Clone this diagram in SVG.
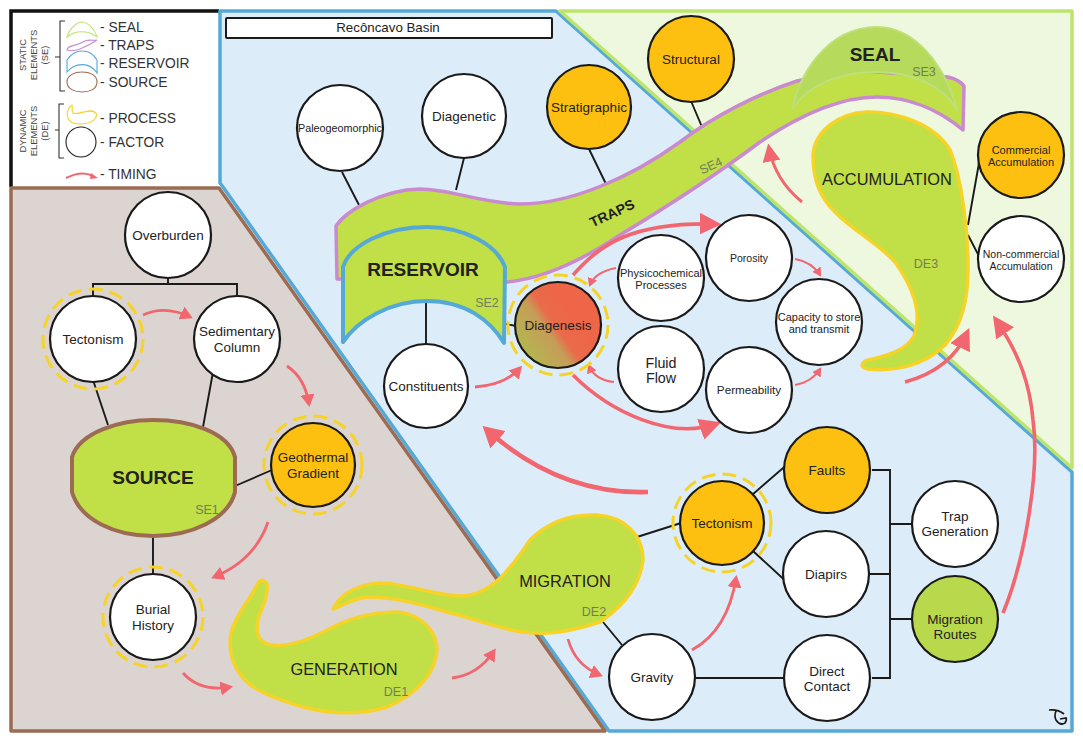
<svg xmlns="http://www.w3.org/2000/svg" width="1083" height="742" viewBox="0 0 1083 742">
<style>
text{font-family:"Liberation Sans",Arial,sans-serif;fill:#222;text-anchor:middle}
.c{fill:#fff;stroke:#1a1a1a;stroke-width:2.2}
.o{fill:#fdc010}
.g{fill:#b8d94c}
.d{fill:none;stroke:#f5d327;stroke-width:3;stroke-dasharray:14 7}
.l{fill:none;stroke:#1a1a1a;stroke-width:1.9}
.t{font-size:13.5px}
.s{font-size:11px}
.m{font-size:11px}
.p{fill:#c1df47;stroke:#f5d327;stroke-width:3.5;stroke-linejoin:round}
.tag{font-size:12.5px;fill:#6f7f58}
.h{font-size:16.4px}
.b{font-weight:bold}
.a{fill:none;stroke:#f1666f;stroke-linecap:butt}
.a1{stroke-width:2.8;marker-end:url(#ah)}
.a0{stroke-width:2;marker-end:url(#ah)}
.a2{stroke-width:3.6;marker-end:url(#ah2)}
.a3{stroke-width:4.6;marker-end:url(#ah3)}
.lg{font-size:13.8px;text-anchor:start;fill:#333}
.lv{font-size:9.4px;fill:#444}
</style>
<defs>
<marker id="ah" markerWidth="5" markerHeight="5" refX="3.4" refY="2.5" orient="auto"><path d="M0 0L4.5 2.5L0 5z" fill="#f1666f"/></marker>
<marker id="ah2" markerWidth="6" markerHeight="6" refX="4.5" refY="3" orient="auto"><path d="M0 0L6 3L0 6z" fill="#f1666f"/></marker>
<marker id="ah3" markerWidth="5" markerHeight="5" refX="3.2" refY="2.5" orient="auto"><path d="M0 0L4.5 2.5L0 5z" fill="#f1666f"/></marker>
<linearGradient id="dg" x1="0.15" y1="0.8" x2="0.72" y2="0.4"><stop offset="0" stop-color="#b5b451"/><stop offset="0.45" stop-color="#c69c58"/><stop offset="0.62" stop-color="#ea6a4a"/><stop offset="1" stop-color="#ee6547"/></linearGradient>
</defs>

<g id="background">
<rect width="1083" height="742" fill="#fff"/>
<path d="M11 187V11H219" fill="none" stroke="#111" stroke-width="3.500"/>
<path d="M220 11H556L1072 472V731H609L223 187L220 183Z" fill="#dcedf9" stroke="#55a9d7" stroke-width="3.500" stroke-linejoin="round"/>
<path d="M560 11H1072V468Z" fill="#eef8df" stroke="#bde46c" stroke-width="3.500" stroke-linejoin="round"/>
<path d="M11 188H219L605 731H11Z" fill="#dcd4d1" stroke="#9c6b53" stroke-width="3.500" stroke-linejoin="round"/>
<rect x="226" y="18" width="326" height="20" rx="1" fill="#fff" stroke="#1a1a1a" stroke-width="2"/>
<text x="388" y="32" font-size="13.300">Recôncavo Basin</text>
<path d="M1049 710Q1058 709 1064 714M1056 711Q1054 716 1056 720Q1060 726 1065 723Q1067 720 1066 718L1060 719" fill="none" stroke="#1a1a1a" stroke-width="1.700"/>
</g>

<g id="legend">
<g fill="none" stroke-width="1.100">
<path d="M65 21H60V91H65M55 57H60M64 104H59V158H64M55 130H59" stroke="#333"/>
<path d="M67 37C70 27 78 22 82 22C90 23 96 32 97 37C88 30 75 30 67 37Z" stroke="#bde46c"/>
<path d="M67 50C67 45 75 47 85 41C90 39 94 41 97 40C90 45 85 47 80 49C75 51 70 51 67 50Z" stroke="#c98ad0"/>
<path d="M67 72V60C75 48 90 48 97 60V73C90 62 75 62 67 72Z" stroke="#55a9d7"/>
<path d="M67 82C67 75 75 72 82 72C90 72 97 75 97 82C97 89 90 92 82 92C75 92 67 89 67 82Z" stroke="#9c6b53"/>
<path d="M72 105C65 110 64 124 80 124C92 124 98 118 96 113C90 107 78 116 73 113C71 110 73 107 72 105Z" stroke="#f5d327"/>
<circle cx="81" cy="142" r="15" stroke="#222"/>
</g>
<path d="M66 178Q82 170 93 176" fill="none" stroke="#f1666f" stroke-width="2"/>
<path d="M91 173L98 178L90 179Z" fill="#f1666f"/>
<text class="lg" x="100" y="32">- SEAL</text>
<text class="lg" x="100" y="50">- TRAPS</text>
<text class="lg" x="100" y="68">- RESERVOIR</text>
<text class="lg" x="100" y="87">- SOURCE</text>
<text class="lg" x="100" y="123">- PROCESS</text>
<text class="lg" x="100" y="147">- FACTOR</text>
<text class="lg" x="100" y="179">- TIMING</text>
<g transform="translate(34 55) rotate(-90)"><text class="lv" y="-8">STATIC</text><text class="lv" y="3">ELEMENTS</text><text class="lv" y="14">(SE)</text></g>
<g transform="translate(34 131) rotate(-90)"><text class="lv" y="-8">DYNAMIC</text><text class="lv" y="3">ELEMENTS</text><text class="lv" y="14">(DE)</text></g>
</g>

<g id="connectors">
<path class="l" d="M168 278V284M93 298V284H237V298M93 380L108 425M213 372L203 427M235 486L272 470M153 535V575"/>
<path class="l" d="M342 172L359 205M464 158L456 190M589 149L606 184M691 101L702 127M426 298V344M506 324L516 326"/>
<path class="l" d="M979 163L968 225M968 235L981 260"/>
<path class="l" d="M637 537L681 523M752 495L790 462M753 551L790 585M603 622L622 645M695 678H784"/>
<path class="l" d="M872 470H890V678H872M869 574H890M890 524H912M890 619H912"/>
</g>

<g id="traps">
<path d="M336 226C345 212 380 190 420 189C450 189 480 203 520 204C570 204 630 178 680 142C715 115 760 93 797 81L850 70L948 77Q960 80 964 86L963 130C945 115 915 97 877 97C840 97 800 115 760 142C720 172 670 205 620 235C590 255 550 278 507 282L337 279Z" fill="#c1df47" stroke="#c98ad0" stroke-width="3.500" stroke-linejoin="round"/>
<text x="612" y="218" transform="rotate(-25 612 213)" font-size="14" class="b">TRAPS</text>
<text x="711" y="170" transform="rotate(-25 711 166)" class="tag">SE4</text>
</g>
<g id="seal">
<path d="M793 108C797 80 825 27 877 27C915 27 945 65 957 110C945 88 915 72 877 72C840 72 808 85 793 108Z" fill="#b5da5c" stroke="#bfe078" stroke-width="2" stroke-linejoin="round"/>
<text x="875" y="61" font-size="19" class="b">SEAL</text>
<text x="924" y="76" class="tag">SE3</text>
</g>

<g id="reservoir">
<path d="M343 342V267C350 245 385 227 427 227C465 227 497 245 505 267L504 343C490 320 465 301 427 301C390 301 358 320 343 342Z" fill="#c1df47" stroke="#55a9d7" stroke-width="4" stroke-linejoin="round"/>
<text x="423" y="276" font-size="19" class="b">RESERVOIR</text>
<text x="487" y="307" class="tag">SE2</text>
</g>

<g id="source">
<path d="M72 457C80 432 120 420 153 420C190 420 228 432 235 457V492C228 520 190 536 153 536C115 536 80 520 72 492Z" fill="#c1df47" stroke="#9c6b53" stroke-width="4"/>
<text x="153" y="484" font-size="19" class="b">SOURCE</text>
<text x="207" y="514" class="tag">SE1</text>
</g>

<g id="generation">
<path class="p" d="M257 585Q262 576 267 584Q268 595 262 608C255 625 255 638 265 643C280 650 305 642 333 627C355 616 380 612 398 612C425 615 437 635 437 650C435 675 415 695 387 707C360 715 330 714 303 707C280 700 255 692 243 678C232 665 228 650 231 633C235 615 250 600 257 585Z"/>
<text class="h" x="344" y="675">GENERATION</text>
<text x="396" y="696" class="tag">DE1</text>
</g>
<g id="migration">
<path class="p" d="M333 609C340 595 355 585 380 583C405 583 430 595 460 596C490 596 510 570 530 540C550 520 575 514 597 515C625 517 643 535 643 560C640 585 625 605 600 622C575 630 555 634 537 633C510 633 480 620 440 610C420 604 395 597 370 597C355 597 345 605 333 609Z"/>
<text class="h" x="565" y="587">MIGRATION</text>
<text x="594" y="616" class="tag">DE2</text>
</g>
<g id="accumulation">
<path class="p" d="M867 112C900 112 935 125 950 150C962 180 968 230 968 267C968 300 962 325 945 345C925 365 895 372 868 369Q858 367 865 361C885 356 905 352 914 336C922 315 915 290 895 262C880 245 850 228 835 212C820 197 813 180 813 155C815 130 840 113 867 112Z"/>
<text class="h" x="887" y="185">ACCUMULATION</text>
<text x="926" y="268" class="tag">DE3</text>
</g>

<g id="timing-arrows">
<path class="a a1" d="M143 315Q165 305 190 317"/>
<path class="a a1" d="M287 366Q305 378 309 404"/>
<path class="a a1" d="M268 522Q255 560 214 577"/>
<path class="a a1" d="M183 673Q200 692 230 687"/>
<path class="a a1" d="M452 678Q478 675 494 651"/>
<path class="a a1" d="M568 639Q575 665 600 675"/>
<path class="a a1" d="M692 650Q728 630 736 578"/>
<path class="a a1" d="M475 387Q505 385 520 368"/>
<path class="a a0" d="M616 268Q595 272 590 285"/>
<path class="a a0" d="M614 382Q595 380 589 366"/>
<path class="a a0" d="M795 259Q812 262 820 275"/>
<path class="a a0" d="M795 385Q812 382 820 369"/>
<path class="a a2" d="M573 275C600 245 630 222 716 224"/>
<path class="a a2" d="M573 375C610 412 670 440 716 424"/>
<path class="a a2" d="M905 382Q950 370 967 333"/>
<path class="a a2" d="M802 202Q775 180 769 148" style="stroke-width:3"/>
<path class="a a2" d="M1003 613C1025 560 1040 470 1033 420C1030 385 1020 355 996 320"/>
<path class="a a3" d="M648 492Q560 495 487 430"/>
</g>

<g id="overburden"><circle class="c" cx="168" cy="235" r="43"/><text class="t" x="168" y="240">Overburden</text></g>
<g id="tectonism-source"><circle class="c" cx="93" cy="339" r="43"/><circle class="d" cx="93" cy="339" r="50"/><text class="t" x="93" y="344">Tectonism</text></g>
<g id="sedimentary"><circle class="c" cx="237" cy="339" r="43"/><text class="t" x="237" y="336">Sedimentary</text><text class="t" x="237" y="352">Column</text></g>
<g id="geothermal"><circle class="c o" cx="313" cy="465" r="42"/><circle class="d" cx="313" cy="465" r="49"/><text class="t" x="313" y="462">Geothermal</text><text class="t" x="313" y="478">Gradient</text></g>
<g id="burial"><circle class="c" cx="153" cy="617" r="43"/><circle class="d" cx="153" cy="617" r="50"/><text class="t" x="153" y="614">Burial</text><text class="t" x="153" y="630">History</text></g>
<g id="tectonism"><circle class="c o" cx="722" cy="523" r="42"/><circle class="d" cx="722" cy="523" r="49"/><text class="t" x="722" y="528">Tectonism</text></g>
<g id="faults"><circle class="c o" cx="827" cy="470" r="43"/><text class="t" x="827" y="475">Faults</text></g>
<g id="diapirs"><circle class="c" cx="826" cy="574" r="43"/><text class="t" x="826" y="579">Diapirs</text></g>
<g id="gravity"><circle class="c" cx="652" cy="677" r="43"/><text class="t" x="652" y="682">Gravity</text></g>
<g id="direct"><circle class="c" cx="827" cy="678" r="43"/><text class="t" x="827" y="676">Direct</text><text class="t" x="827" y="691">Contact</text></g>
<g id="trap-generation"><circle class="c" cx="955" cy="524" r="43"/><text class="t" x="955" y="521">Trap</text><text class="t" x="955" y="536">Generation</text></g>
<g id="migration-routes"><circle class="c g" cx="955" cy="619" r="43"/><text class="t" x="955" y="624">Migration</text><text class="t" x="955" y="639">Routes</text></g>
<g id="constituents"><circle class="c" cx="426" cy="386" r="42"/><text class="t" x="426" y="391">Constituents</text></g>
<g id="diagenesis"><circle cx="558" cy="325" r="43" fill="url(#dg)" stroke="#1a1a1a" stroke-width="2.200"/><circle class="d" cx="558" cy="325" r="50"/><text class="t" x="558" y="330">Diagenesis</text></g>
<g id="physicochemical"><circle class="c" cx="661" cy="278" r="43"/><text class="m" x="661" y="277">Physicochemical</text><text class="m" x="661" y="289">Processes</text></g>
<g id="fluid"><circle class="c" cx="661" cy="369" r="43"/><text x="661" y="368" font-size="14.300">Fluid</text><text x="661" y="383" font-size="14.300">Flow</text></g>
<g id="porosity"><circle class="c" cx="749" cy="258" r="43"/><text x="749" y="262" font-size="10.500">Porosity</text></g>
<g id="permeability"><circle class="c" cx="749" cy="390" r="43"/><text x="749" y="394" font-size="11.700">Permeability</text></g>
<g id="capacity"><circle class="c" cx="819" cy="322" r="43"/><text class="m" x="819" y="321">Capacity to store</text><text class="m" x="819" y="333">and transmit</text></g>
<g id="commercial"><circle class="c o" cx="1021" cy="155" r="43"/><text class="s" x="1021" y="154">Commercial</text><text class="s" x="1021" y="166">Accumulation</text></g>
<g id="noncommercial"><circle class="c" cx="1021" cy="259" r="43"/><text x="1021" y="258" font-size="10.500">Non-commercial</text><text x="1021" y="270" font-size="10.500">Accumulation</text></g>
<g id="structural"><circle class="c o" cx="691" cy="59" r="43"/><text class="t" x="691" y="64">Structural</text></g>
<g id="stratigraphic"><circle class="c o" cx="589" cy="107" r="42"/><text class="t" x="589" y="112">Stratigraphic</text></g>
<g id="diagenetic"><circle class="c" cx="464" cy="116" r="42"/><text class="t" x="464" y="121">Diagenetic</text></g>
<g id="paleogeomorphic"><circle class="c" cx="340" cy="128" r="43"/><text x="340" y="132" font-size="10.800">Paleogeomorphic</text></g>
</svg>
